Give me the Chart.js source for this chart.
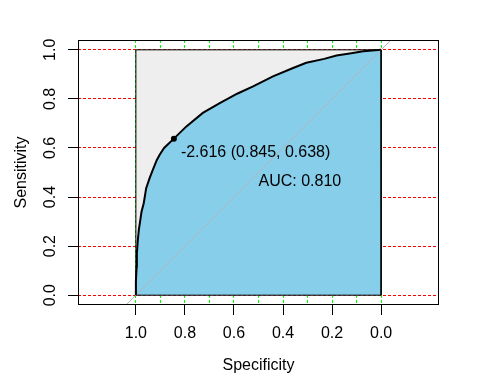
<!DOCTYPE html>
<html>
<head>
<meta charset="utf-8">
<script src="https://cdn.jsdelivr.net/npm/chart.js@4"></script>
<style>
  html, body { margin: 0; padding: 0; background: #fff; }
  #wrap { width: 480px; height: 384px; }
</style>
</head>
<body>
<div id="wrap"><canvas id="roc"></canvas></div>
<script>
// ROC curve (specificity, sensitivity)
const specificity = [1.000, 1.000, 0.997, 0.996, 0.992, 0.988, 0.982, 0.977, 0.968, 0.958,
  0.944, 0.931, 0.915, 0.903, 0.885, 0.845, 0.794, 0.727, 0.658, 0.585,
  0.522, 0.441, 0.359, 0.305, 0.232, 0.182, 0.128, 0.073, 0.000];
const sensitivity = [0.000, 0.054, 0.116, 0.170, 0.225, 0.266, 0.306, 0.340, 0.375, 0.436,
  0.477, 0.511, 0.550, 0.572, 0.600, 0.638, 0.688, 0.743, 0.783, 0.822,
  0.851, 0.892, 0.926, 0.947, 0.963, 0.977, 0.985, 0.994, 1.000];

const bestThreshold = -2.616;
const bestSpec = 0.845;
const bestSens = 0.638;
const aucValue = 0.810;

const xTickValues = [1.0, 0.8, 0.6, 0.4, 0.2, 0.0];
const xTickLabels = ['1.0', '0.8', '0.6', '0.4', '0.2', '0.0'];
const xGridValues = [0.0, 0.1, 0.2, 0.3, 0.4, 0.5, 0.6, 0.7, 0.8, 0.9, 1.0];
const yTickValues = [0.0, 0.2, 0.4, 0.6, 0.8, 1.0];
const yTickLabels = ['0.0', '0.2', '0.4', '0.6', '0.8', '1.0'];

const FONT = 'Liberation Sans, Arial, sans-serif';

function labelFor(values, labels, v) {
  const i = values.findIndex(t => Math.abs(t - v) < 1e-9);
  return i >= 0 ? labels[i] : '';
}

const rocPoints = specificity.map((s, i) => ({ x: s, y: sensitivity[i] }));
const topEdge = [{ x: 1, y: 1 }, { x: 0, y: 1 }];
const squarePoints = [{ x: 1, y: 0 }, { x: 1, y: 1 }, { x: 0, y: 1 }, { x: 0, y: 0 }, { x: 1, y: 0 }];

const boxPlugin = {
  id: 'boxAndText',
  afterDraw(chart) {
    const { ctx, chartArea } = chart;
    const xs = chart.scales.x, ys = chart.scales.y;
    ctx.save();
    ctx.strokeStyle = '#000';
    ctx.lineWidth = 1;
    ctx.strokeRect(chartArea.left + 0.5, chartArea.top + 0.5,
      chartArea.right - chartArea.left - 1, chartArea.bottom - chartArea.top - 1);

    ctx.fillStyle = '#000';
    ctx.font = '16px ' + FONT;
    ctx.textAlign = 'left';
    ctx.textBaseline = 'alphabetic';
    const px = xs.getPixelForValue(bestSpec), py = ys.getPixelForValue(bestSens);
    ctx.fillText(bestThreshold.toFixed(3) + ' (' + bestSpec.toFixed(3) + ', ' + bestSens.toFixed(3) + ')',
      px + 7, py + 18);
    ctx.fillText('AUC: ' + aucValue.toFixed(3), xs.getPixelForValue(0.5), ys.getPixelForValue(0.5) + 13.5);
    ctx.restore();
  }
};

new Chart(document.getElementById('roc'), {
  type: 'line',
  data: {
    datasets: [
      {
        data: topEdge,
        borderWidth: 0,
        borderColor: 'rgba(0,0,0,0)',
        backgroundColor: '#EEEEEE',
        fill: { value: 0 },
        pointRadius: 0,
        order: 5
      },
      {
        data: rocPoints,
        borderWidth: 0,
        borderColor: 'rgba(0,0,0,0)',
        backgroundColor: '#87CEEB',
        fill: { value: 0 },
        pointRadius: 0,
        order: 4
      },
      {
        data: squarePoints,
        borderWidth: 1,
        borderColor: '#000',
        fill: false,
        pointRadius: 0,
        order: 3
      },
      {
        data: [{ x: 1.5, y: -0.5 }, { x: -0.5, y: 1.5 }],
        borderWidth: 1,
        borderColor: '#B4B4B4',
        fill: false,
        pointRadius: 0,
        order: 2
      },
      {
        data: rocPoints,
        borderWidth: 2,
        borderColor: '#000',
        fill: false,
        pointRadius: 0,
        order: 1
      },
      {
        data: [{ x: bestSpec, y: bestSens }],
        showLine: false,
        pointRadius: 3,
        pointBackgroundColor: '#000',
        pointBorderWidth: 0,
        order: 0
      }
    ]
  },
  options: {
    responsive: true,
    maintainAspectRatio: false,
    animation: false,
    layout: { padding: { top: 40, right: 41, left: 0, bottom: 0 } },
    plugins: { legend: { display: false }, tooltip: { enabled: false } },
    elements: { line: { tension: 0 } },
    scales: {
      x: {
        type: 'linear',
        reverse: true,
        min: -0.236,
        max: 1.236,
        afterBuildTicks: s => { s.ticks = xGridValues.map(v => ({ value: v })); },
        afterFit: s => { s.height = 79; },
        border: { display: false, dash: [3, 2] },
        grid: {
          color: '#00FF00',
          lineWidth: 1,
          tickLength: 10,
          tickColor: c => labelFor(xTickValues, xTickLabels, c.tick.value) ? '#000' : 'rgba(0,0,0,0)',
          tickBorderDash: []
        },
        ticks: {
          autoSkip: false,
          maxRotation: 0,
          padding: 9,
          color: '#000',
          font: { family: FONT, size: 16 },
          callback: v => labelFor(xTickValues, xTickLabels, v)
        },
        title: {
          display: true,
          text: 'Specificity',
          color: '#000',
          font: { family: FONT, size: 16 },
          padding: { top: 0, bottom: 9 }
        }
      },
      y: {
        type: 'linear',
        min: -0.04,
        max: 1.04,
        afterBuildTicks: s => { s.ticks = yTickValues.map(v => ({ value: v })); },
        afterFit: s => { s.width = 78; },
        border: { display: false, dash: [3, 2] },
        grid: {
          color: '#FF0000',
          lineWidth: 1,
          tickLength: 10,
          tickColor: '#000',
          tickBorderDash: []
        },
        ticks: {
          autoSkip: false,
          minRotation: 90,
          maxRotation: 90,
          crossAlign: 'center',
          padding: 6,
          color: '#000',
          font: { family: FONT, size: 16 },
          callback: v => labelFor(yTickValues, yTickLabels, v)
        },
        title: {
          display: true,
          text: 'Sensitivity',
          color: '#000',
          font: { family: FONT, size: 16 },
          padding: { top: 12, bottom: 0 }
        }
      }
    }
  },
  plugins: [boxPlugin]
});
</script>
</body>
</html>
